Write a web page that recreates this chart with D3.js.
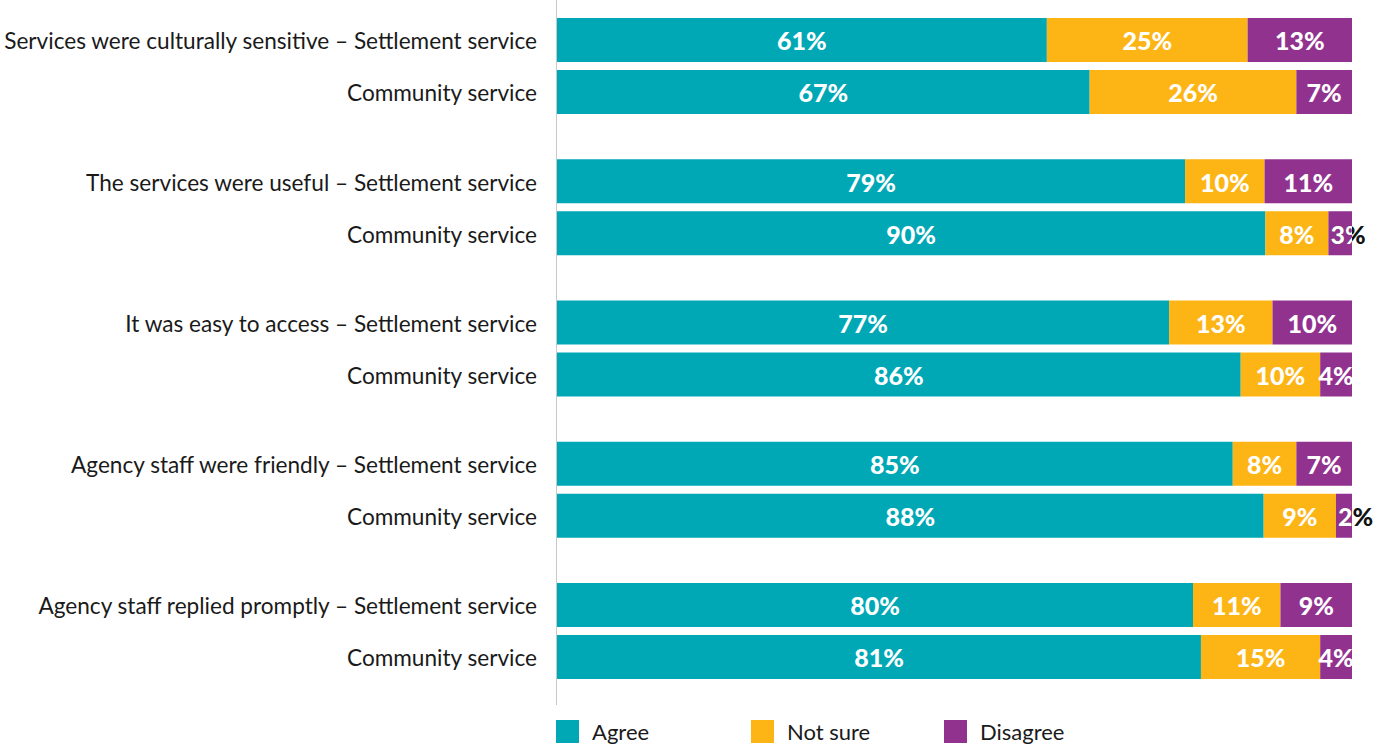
<!DOCTYPE html>
<html>
<head>
<meta charset="utf-8">
<script src="https://cdn.jsdelivr.net/npm/d3@7"></script>
<style>
  html, body { margin: 0; padding: 0; background: #fff; }
  svg { display: block; font-family: "Source Sans Pro", Lato, "Noto Sans", sans-serif; }
</style>
</head>
<body>
<svg id="chart" width="1378" height="747"></svg>
<script>
// One settlement row and one community row per statement
const rowLabels = [
  "Services were culturally sensitive – Settlement service", "Community service",
  "The services were useful – Settlement service", "Community service",
  "It was easy to access – Settlement service", "Community service",
  "Agency staff were friendly – Settlement service", "Community service",
  "Agency staff replied promptly – Settlement service", "Community service"
];
const agree    = [61, 67, 79, 90, 77, 86, 85, 88, 80, 81];
const notSure  = [25, 26, 10, 8, 13, 10, 8, 9, 11, 15];
const disagree = [13, 7, 11, 3, 10, 4, 7, 2, 9, 4];
const seriesNames = ["Agree", "Not sure", "Disagree"];
const seriesColors = ["#00a8b6", "#fdb515", "#92328f"];

const svg = d3.select("#chart");
const x0 = 557, x1 = 1352;

// Row vertical positions: pairs of bars, with a gap between statements
const rowTop = i => 18 + Math.floor(i / 2) * 141.25 + (i % 2) * 52;
const barH = 44;

// Each row is a share of its own respondents, so it spans the full width
const rows = rowLabels.map((label, i) => {
  const vals = [agree[i], notSure[i], disagree[i]];
  const total = d3.sum(vals);
  const x = d3.scaleLinear().domain([0, total]).range([x0, x1]);
  let acc = 0;
  const segs = vals.map((v, k) => {
    const s = { row: i, key: seriesNames[k], color: seriesColors[k], v,
                x0: x(acc), x1: x(acc + v) };
    acc += v;
    return s;
  });
  return { label, i, segs };
});

// Category labels
svg.append("g").selectAll("text").data(rows).join("text")
  .attr("x", 537)
  .attr("y", d => rowTop(d.i) + barH / 2 + 1.5)
  .attr("dy", "0.35em")
  .attr("text-anchor", "end")
  .attr("font-size", 22.6)
  .attr("fill", "#1a1a1a")
  .text(d => d.label);

const defs = svg.append("defs");
const segs = rows.flatMap(r => r.segs);
segs.forEach((s, j) => {
  s.id = j;
  defs.append("clipPath").attr("id", "clip" + j)
    .append("rect")
    .attr("x", s.x0).attr("y", rowTop(s.row))
    .attr("width", s.x1 - s.x0).attr("height", barH);
});

// Bar segments
svg.append("g").selectAll("rect").data(segs).join("rect")
  .attr("x", d => d.x0)
  .attr("y", d => rowTop(d.row))
  .attr("width", d => d.x1 - d.x0)
  .attr("height", barH)
  .attr("fill", d => d.color);

// Value labels: centred in white; labels too wide for a thin segment start at
// its left edge, white over the segment and dark where they run past it
const lab = svg.append("g").attr("font-size", 25).attr("font-weight", 900);
lab.selectAll("text").data(segs).join("text")
  .attr("y", d => rowTop(d.row) + barH / 2 + 1.5)
  .attr("dy", "0.35em")
  .attr("fill", "#fff")
  .text(d => d.v + "%")
  .each(function (d) {
    const w = this.getComputedTextLength();
    const t = d3.select(this);
    if (w > (d.x1 - d.x0) * 1.3) {
      t.attr("text-anchor", "start").attr("x", d.x0 + 2)
        .attr("clip-path", `url(#clip${d.id})`);
      lab.insert("text", () => this)
        .attr("x", d.x0 + 2)
        .attr("y", rowTop(d.row) + barH / 2 + 1.5)
        .attr("dy", "0.35em")
        .attr("fill", "#111")
        .text(d.v + "%");
    } else {
      t.attr("text-anchor", "middle").attr("x", (d.x0 + d.x1) / 2);
    }
  });

// Baseline
svg.append("line")
  .attr("x1", 556.5).attr("x2", 556.5)
  .attr("y1", 0).attr("y2", 705)
  .attr("stroke", "#c8c8c8").attr("stroke-width", 1);

// Legend
const legendX = [556, 751, 944];
const lg = svg.append("g").selectAll("g").data(seriesNames).join("g")
  .attr("transform", (d, k) => `translate(${legendX[k]},720)`);
lg.append("rect").attr("width", 23).attr("height", 23).attr("fill", (d, k) => seriesColors[k]);
lg.append("text").attr("x", 36).attr("y", 12).attr("dy", "0.35em")
  .attr("font-size", 22).attr("fill", "#1a1a1a").text(d => d);
</script>
</body>
</html>
